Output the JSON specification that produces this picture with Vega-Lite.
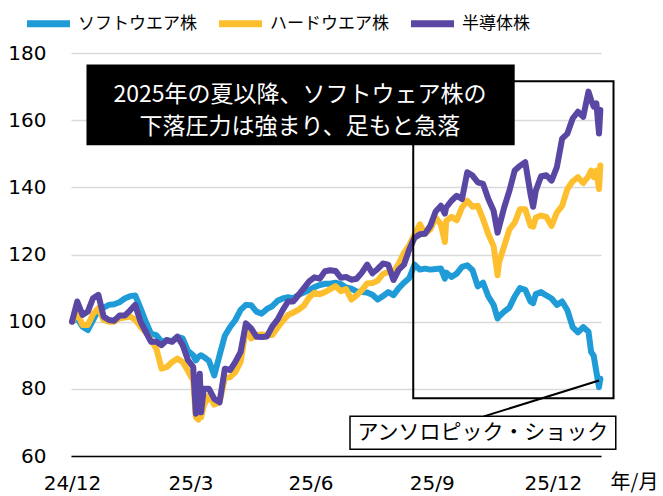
{
  "$schema": "https://vega.github.io/schema/vega-lite/v6.json",
  "width": 530,
  "height": 403,
  "autosize": {"type": "none"},
  "padding": {"left": 71, "top": 53, "right": 62, "bottom": 40},
  "background": "white",
  "config": {"view": {"stroke": null}, "font": "Noto Sans CJK JP"},
  "datasets": {
    "idx": [
      {"d":"2024-12-31","S":100,"H":100,"P":100},
      {"d":"2025-01-04","S":101,"H":102.5,"P":106},
      {"d":"2025-01-08","S":98.5,"H":99,"P":102},
      {"d":"2025-01-12","S":97.5,"H":99,"P":103},
      {"d":"2025-01-16","S":100.5,"H":102.3,"P":107},
      {"d":"2025-01-20","S":103.5,"H":104,"P":108},
      {"d":"2025-01-24","S":104.2,"H":100.5,"P":101.5},
      {"d":"2025-01-28","S":105,"H":100,"P":100.5},
      {"d":"2025-02-01","S":105.2,"H":100,"P":100.3},
      {"d":"2025-02-05","S":105.8,"H":101,"P":101.8},
      {"d":"2025-02-09","S":106.9,"H":101.2,"P":101.8},
      {"d":"2025-02-13","S":107.6,"H":101.5,"P":103.3},
      {"d":"2025-02-17","S":107.8,"H":100.6,"P":105},
      {"d":"2025-02-21","S":104,"H":98.5,"P":100},
      {"d":"2025-02-25","S":100,"H":96.8,"P":97},
      {"d":"2025-03-01","S":96.4,"H":94.5,"P":94},
      {"d":"2025-03-05","S":96,"H":92,"P":94},
      {"d":"2025-03-09","S":94,"H":86,"P":93},
      {"d":"2025-03-13","S":94.5,"H":86.5,"P":94.5},
      {"d":"2025-03-17","S":94.2,"H":88,"P":94},
      {"d":"2025-03-21","S":95.5,"H":89,"P":95.5},
      {"d":"2025-03-25","S":95,"H":88,"P":93},
      {"d":"2025-03-29","S":91.3,"H":85.3,"P":88.6},
      {"d":"2025-04-02","S":90,"H":82.5,"P":86.5},
      {"d":"2025-04-04","S":88.5,"H":71.6,"P":72.6},
      {"d":"2025-04-06","S":89.5,"H":70.8,"P":77},
      {"d":"2025-04-07","S":89.8,"H":77,"P":84.5},
      {"d":"2025-04-08","S":90,"H":71.5,"P":73},
      {"d":"2025-04-10","S":89.5,"H":75,"P":80},
      {"d":"2025-04-14","S":88.3,"H":78,"P":80},
      {"d":"2025-04-18","S":84,"H":75.3,"P":77},
      {"d":"2025-04-22","S":90,"H":76,"P":76},
      {"d":"2025-04-26","S":95.8,"H":83.2,"P":86},
      {"d":"2025-04-30","S":98.4,"H":83.5,"P":85.6},
      {"d":"2025-05-04","S":100.5,"H":85,"P":88},
      {"d":"2025-05-08","S":103.5,"H":88,"P":91},
      {"d":"2025-05-12","S":105,"H":97.7,"P":99.5},
      {"d":"2025-05-16","S":104.9,"H":95,"P":98},
      {"d":"2025-05-20","S":103,"H":96,"P":95.5},
      {"d":"2025-05-24","S":102.4,"H":96.2,"P":95.4},
      {"d":"2025-05-28","S":103.8,"H":96,"P":95.6},
      {"d":"2025-06-01","S":104.6,"H":96,"P":98.6},
      {"d":"2025-06-05","S":106.2,"H":98.2,"P":100.6},
      {"d":"2025-06-09","S":106.9,"H":100.2,"P":103.5},
      {"d":"2025-06-13","S":107.3,"H":102,"P":106},
      {"d":"2025-06-17","S":107,"H":102.7,"P":106},
      {"d":"2025-06-21","S":108,"H":103.6,"P":108},
      {"d":"2025-06-25","S":108.7,"H":104.8,"P":110},
      {"d":"2025-06-29","S":109.4,"H":107.2,"P":112},
      {"d":"2025-07-03","S":110.3,"H":108.6,"P":113.2},
      {"d":"2025-07-07","S":110.9,"H":108.2,"P":112.8},
      {"d":"2025-07-11","S":111.3,"H":108.8,"P":115},
      {"d":"2025-07-15","S":111.3,"H":109.7,"P":115.3},
      {"d":"2025-07-19","S":111.6,"H":110.6,"P":115.1},
      {"d":"2025-07-23","S":111.2,"H":109.1,"P":113.1},
      {"d":"2025-07-27","S":110.2,"H":109.7,"P":113.3},
      {"d":"2025-07-31","S":109.8,"H":106.6,"P":112.5},
      {"d":"2025-08-04","S":109,"H":107.8,"P":112.8},
      {"d":"2025-08-08","S":108.8,"H":109.4,"P":114.6},
      {"d":"2025-08-12","S":108.7,"H":111.4,"P":117},
      {"d":"2025-08-16","S":108,"H":111.5,"P":114.4},
      {"d":"2025-08-20","S":106.6,"H":112.2,"P":115.7},
      {"d":"2025-08-24","S":107.6,"H":114.2,"P":117.3},
      {"d":"2025-08-28","S":108.8,"H":114.8,"P":117},
      {"d":"2025-09-01","S":107.9,"H":114.7,"P":112.4},
      {"d":"2025-09-05","S":110,"H":117.3,"P":115.5},
      {"d":"2025-09-09","S":111.6,"H":120.5,"P":117},
      {"d":"2025-09-13","S":113,"H":122.8,"P":121.5},
      {"d":"2025-09-17","S":117,"H":126,"P":125},
      {"d":"2025-09-21","S":115.5,"H":129,"P":126},
      {"d":"2025-09-25","S":115.8,"H":126.2,"P":126.2},
      {"d":"2025-09-29","S":115.5,"H":127.5,"P":128.6},
      {"d":"2025-10-03","S":115.7,"H":131,"P":132.8},
      {"d":"2025-10-07","S":115.8,"H":129,"P":134.5},
      {"d":"2025-10-10","S":112.8,"H":123.7,"P":132.2},
      {"d":"2025-10-11","S":114.6,"H":130,"P":134},
      {"d":"2025-10-15","S":113.3,"H":131.2,"P":136},
      {"d":"2025-10-19","S":114.3,"H":130.2,"P":137.5},
      {"d":"2025-10-23","S":116.3,"H":134,"P":136.5},
      {"d":"2025-10-27","S":116.8,"H":136,"P":144.5},
      {"d":"2025-10-31","S":115.3,"H":134.2,"P":143.5},
      {"d":"2025-11-04","S":110.5,"H":134.5,"P":141.5},
      {"d":"2025-11-08","S":111.6,"H":130.5,"P":141},
      {"d":"2025-11-12","S":107.5,"H":126,"P":136.5},
      {"d":"2025-11-16","S":105,"H":122.5,"P":133},
      {"d":"2025-11-19","S":101,"H":113.8,"P":126.5},
      {"d":"2025-11-20","S":101.5,"H":117.5,"P":128},
      {"d":"2025-11-24","S":103,"H":122.5,"P":134},
      {"d":"2025-11-28","S":104.2,"H":127.5,"P":139},
      {"d":"2025-12-02","S":107.5,"H":129.5,"P":145},
      {"d":"2025-12-06","S":110,"H":133.5,"P":146.4},
      {"d":"2025-12-10","S":109.5,"H":133.5,"P":147.5},
      {"d":"2025-12-14","S":106,"H":128.5,"P":138},
      {"d":"2025-12-16","S":105.5,"H":128.3,"P":134.2},
      {"d":"2025-12-18","S":108.2,"H":131,"P":139},
      {"d":"2025-12-22","S":108.8,"H":131.6,"P":143.3},
      {"d":"2025-12-26","S":107.8,"H":131.2,"P":143.6},
      {"d":"2025-12-30","S":106.9,"H":128.5,"P":142},
      {"d":"2026-01-03","S":105,"H":132.5,"P":146},
      {"d":"2026-01-07","S":106,"H":134.5,"P":154.5},
      {"d":"2026-01-11","S":103.4,"H":139.5,"P":156},
      {"d":"2026-01-15","S":98.4,"H":141.8,"P":160.5},
      {"d":"2026-01-19","S":96.8,"H":143,"P":162.5},
      {"d":"2026-01-23","S":98.4,"H":141.3,"P":161},
      {"d":"2026-01-27","S":97,"H":143.3,"P":168.5},
      {"d":"2026-01-29","S":91,"H":145,"P":166},
      {"d":"2026-01-31","S":89.8,"H":143,"P":164},
      {"d":"2026-02-02","S":85,"H":145,"P":165},
      {"d":"2026-02-04","S":80.5,"H":139.5,"P":156},
      {"d":"2026-02-05","S":83,"H":146.5,"P":163}
    ]
  },
  "layer": [
    {
      "data": {"name": "idx"},
      "mark": {"type": "line", "strokeWidth": 6, "strokeJoin": "round", "strokeCap": "round"},
      "encoding": {
        "x": {
          "field": "d", "type": "temporal",
          "scale": {"type": "utc", "domain": [{"year": 2024, "month": 12, "date": 30, "hours": 6, "utc": true}, {"year": 2026, "month": 2, "date": 5, "hours": 12, "utc": true}]},
          "axis": {
            "values": [
              {"year": 2024, "month": 12, "date": 31, "utc": true},
              {"year": 2025, "month": 3, "date": 31, "utc": true},
              {"year": 2025, "month": 6, "date": 30, "utc": true},
              {"year": 2025, "month": 9, "date": 30, "utc": true},
              {"year": 2025, "month": 12, "date": 31, "utc": true}
            ],
            "labelExpr": "utcFormat(datum.value, '%y/%-m')",
            "labelFont": "DejaVu Sans", "labelFontSize": 20, "labelColor": "#000",
            "labelPadding": 17, "ticks": false, "grid": false,
            "domainColor": "#000", "domainWidth": 1.5,
            "labelFlush": false, "labelOverlap": false,
            "title": "年/月", "titleFont": "Noto Sans CJK JP", "titleFontSize": 20,
            "titleFontWeight": "normal", "titleColor": "#000",
            "titleX": 563, "titleY": 32, "titleAlign": "center", "titleBaseline": "alphabetic"
          }
        },
        "y": {
          "field": "S", "type": "quantitative", "title": null,
          "scale": {"domain": [60, 180], "nice": false, "zero": false},
          "axis": {
            "values": [60, 80, 100, 120, 140, 160, 180],
            "labelFont": "DejaVu Sans", "labelFontSize": 20, "labelColor": "#000",
            "labelPadding": 25, "ticks": false, "domain": false,
            "grid": true, "gridColor": "#d9d9d9", "gridWidth": 1.5
          }
        },
        "color": {
          "datum": "ソフトウエア株", "type": "nominal",
          "scale": {"domain": ["ソフトウエア株", "ハードウエア株", "半導体株"], "range": ["#1F9BD7", "#FDBF2D", "#5A47A4"]},
          "legend": {
            "orient": "none", "legendX": -48, "legendY": -55, "direction": "horizontal",
            "title": null, "symbolType": "stroke", "symbolSize": 1850, "symbolStrokeWidth": 7,
            "labelFont": "Noto Sans CJK JP", "labelFontSize": 17, "labelColor": "#000",
            "labelOffset": 4, "columnPadding": 7, "padding": 0, "labelLimit": 300
          }
        }
      }
    },
    {
      "data": {"name": "idx"},
      "mark": {"type": "line", "strokeWidth": 6, "strokeJoin": "round", "strokeCap": "round"},
      "encoding": {
        "x": {"field": "d", "type": "temporal"},
        "y": {"field": "H", "type": "quantitative", "title": null},
        "color": {"datum": "ハードウエア株", "type": "nominal"}
      }
    },
    {
      "data": {"name": "idx"},
      "mark": {"type": "line", "strokeWidth": 6, "strokeJoin": "round", "strokeCap": "round"},
      "encoding": {
        "x": {"field": "d", "type": "temporal"},
        "y": {"field": "P", "type": "quantitative", "title": null},
        "color": {"datum": "半導体株", "type": "nominal"}
      }
    },
    {
      "data": {"values": [{}]},
      "mark": {"type": "rect", "fill": "white", "fillOpacity": 0, "stroke": "#000", "strokeWidth": 2},
      "encoding": {
        "x": {"datum": {"year": 2025, "month": 9, "date": 16, "utc": true}, "type": "temporal"},
        "x2": {"datum": {"year": 2026, "month": 2, "date": 15, "utc": true}},
        "y": {"datum": 171.6, "type": "quantitative"},
        "y2": {"datum": 77.2}
      }
    },
    {
      "data": {"values": [{}]},
      "mark": {"type": "rect", "fill": "#000"},
      "encoding": {
        "x": {"datum": {"year": 2025, "month": 1, "date": 11, "utc": true}, "type": "temporal"},
        "x2": {"datum": {"year": 2025, "month": 12, "date": 2, "utc": true}},
        "y": {"datum": 176.6, "type": "quantitative"},
        "y2": {"datum": 152.5}
      }
    },
    {
      "data": {"values": [{}]},
      "mark": {"type": "text", "color": "#fff", "font": "Noto Sans CJK JP", "fontSize": 23, "align": "center", "baseline": "middle"},
      "encoding": {
        "x": {"datum": {"year": 2025, "month": 6, "date": 22, "utc": true}, "type": "temporal"},
        "y": {"datum": 167.4, "type": "quantitative"},
        "text": {"value": "2025年の夏以降、ソフトウェア株の"}
      }
    },
    {
      "data": {"values": [{}]},
      "mark": {"type": "text", "color": "#fff", "font": "Noto Sans CJK JP", "fontSize": 23, "align": "center", "baseline": "middle"},
      "encoding": {
        "x": {"datum": {"year": 2025, "month": 6, "date": 22, "utc": true}, "type": "temporal"},
        "y": {"datum": 157.9, "type": "quantitative"},
        "text": {"value": "下落圧力は強まり、足もと急落"}
      }
    },
    {
      "data": {"values": [{}]},
      "mark": {"type": "rule", "color": "#000", "strokeWidth": 2},
      "encoding": {
        "x": {"datum": {"year": 2025, "month": 11, "date": 8, "hours": 14, "utc": true}, "type": "temporal"},
        "x2": {"datum": {"year": 2026, "month": 2, "date": 4, "utc": true}},
        "y": {"datum": 71.8, "type": "quantitative"},
        "y2": {"datum": 82.5}
      }
    },
    {
      "data": {"values": [{}]},
      "mark": {"type": "rect", "fill": "#fff", "stroke": "#000", "strokeWidth": 1.5},
      "encoding": {
        "x": {"datum": {"year": 2025, "month": 7, "date": 30, "utc": true}, "type": "temporal"},
        "x2": {"datum": {"year": 2026, "month": 2, "date": 16, "hours": 17, "utc": true}},
        "y": {"datum": 71.8, "type": "quantitative"},
        "y2": {"datum": 62}
      }
    },
    {
      "data": {"values": [{}]},
      "mark": {"type": "text", "color": "#000", "font": "Noto Sans CJK JP", "fontSize": 21, "align": "center", "baseline": "middle"},
      "encoding": {
        "x": {"datum": {"year": 2025, "month": 11, "date": 7, "hours": 19, "utc": true}, "type": "temporal"},
        "y": {"datum": 66.9, "type": "quantitative"},
        "text": {"value": "アンソロピック・ショック"}
      }
    }
  ]
}
